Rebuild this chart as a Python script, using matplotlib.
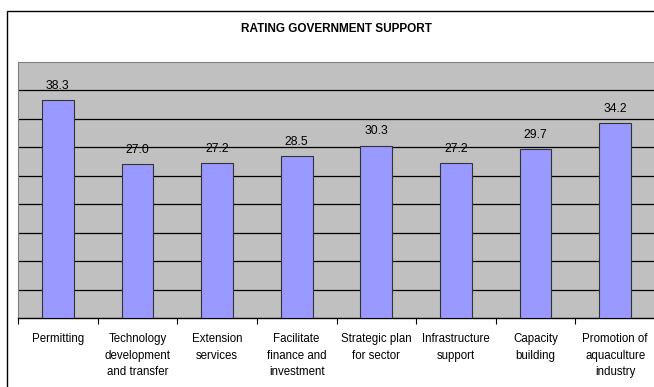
import matplotlib.pyplot as plt
import matplotlib.patches as mpatches
import numpy as np

plt.rcParams['font.family'] = ['Liberation Sans', 'DejaVu Sans']

# support areas and their ratings
categories = ['Permitting',
              'Technology\ndevelopment\nand transfer',
              'Extension\nservices',
              'Facilitate\nfinance and\ninvestment',
              'Strategic plan\nfor sector',
              'Infrastructure\nsupport',
              'Capacity\nbuilding',
              'Promotion of\naquaculture\nindustry']
ratings = [38.3, 27.0, 27.2, 28.5, 30.3, 27.2, 29.7, 34.2]
value_labels = ['38.3', '27.0', '27.2', '28.5', '30.3', '27.2', '29.7', '34.2']

fig = plt.figure(figsize=(6.54, 3.87), dpi=100)
fig.patch.set_facecolor('white')

# outer chart frame
frame = mpatches.Rectangle((7 / 654, -0.1), 1.2, 1.1 - 11 / 387,
                           transform=fig.transFigure, fill=False,
                           edgecolor='black', linewidth=1.0)
fig.patches.append(frame)

ax = fig.add_axes([18 / 654, 69 / 387, 637 / 654, 256 / 387])
ax.set_facecolor('#c0c0c0')

x = np.arange(len(categories))
ax.bar(x, ratings, width=0.4, color='#9999ff', edgecolor='#333333',
       linewidth=0.8, zorder=3)

for xi, val, lab in zip(x, ratings, value_labels):
    ax.annotate(lab, (xi, val), xytext=(0, 6), textcoords='offset points',
                ha='center', va='bottom', fontsize=8.7)

ax.set_xlim(-0.5, len(categories) - 0.5)
ax.set_ylim(0, 45)

# horizontal gridlines every 5 units
ax.set_yticks(np.arange(5, 45, 5))
ax.yaxis.grid(True, color='black', linewidth=0.9, zorder=1)
ax.tick_params(axis='y', left=False, labelleft=False)

ax.set_xticks(x)
ax.set_xticklabels(categories, fontsize=8.3, linespacing=1.5)
ax.tick_params(axis='x', which='major', length=0, pad=11)
ax.set_xticks(np.arange(-0.5, len(categories), 1), minor=True)
ax.tick_params(axis='x', which='minor', length=4, width=0.8)

for side in ['top', 'right', 'left']:
    ax.spines[side].set_color('#808080')
    ax.spines[side].set_linewidth(0.8)
ax.spines['bottom'].set_color('black')
ax.spines['bottom'].set_linewidth(1.0)

fig.text(336 / 654, 1 - 29 / 387, 'RATING GOVERNMENT SUPPORT',
         ha='center', va='center', fontsize=8.5, fontweight='bold')

fig.savefig('out.png', dpi=100)
